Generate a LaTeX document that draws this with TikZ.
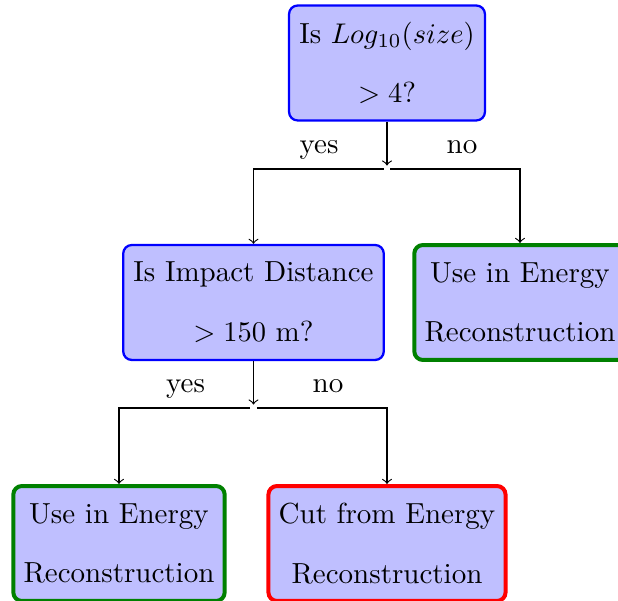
\documentclass[tikz,border=0pt]{standalone}
\begin{document}
\begin{tikzpicture}[x=0.3515pt,y=-0.3515pt,
  base/.style={rectangle, rounded corners=3pt, fill=blue!25, align=center,
    font=\fontsize{10.2pt}{21pt}\selectfont, inner xsep=3.6pt, inner ysep=2pt,
    minimum height=40.4pt},
  decision/.style={base, draw=blue, thick},
  accept/.style={base, draw=green!50!black, line width=1.4pt},
  reject/.style={base, draw=red, line width=1.4pt},
  junction/.style={inner sep=0pt, minimum size=2pt},
  conn/.style={->},
  lab/.style={anchor=base, inner sep=0pt, font=\fontsize{10.2pt}{12pt}\selectfont}]
\useasboundingbox (0,0) rectangle (618,601);
\node[decision] (q1) at (387,63) {Is $Log_{10}(size)$\\$>4$?};
\node[junction] (j1) at (387,169) {};
\node[decision] (q2) at (253.5,302.5) {Is Impact Distance\\$>150$ m?};
\node[accept] (r1) at (520,302.5) {Use in Energy\\Reconstruction};
\node[junction] (j2) at (253.5,408) {};
\node[accept] (r2) at (119,543.5) {Use in Energy\\Reconstruction};
\node[reject] (r3) at (387,543.5) {Cut from Energy\\Reconstruction};
\draw[conn] (q1) -- (j1);
\draw[conn] (j1) -| (q2);
\draw[conn] (j1) -| (r1);
\draw[conn] (q2) -- (j2);
\draw[conn] (j2) -| (r2);
\draw[conn] (j2) -| (r3);
\node[lab] (y1) at (319,154) {yes};
\node[lab] (n1) at (462,154) {no};
\node[lab] (y2) at (185.5,393) {yes};
\node[lab] (n2) at (328,393) {no};
\end{tikzpicture}
\end{document}
